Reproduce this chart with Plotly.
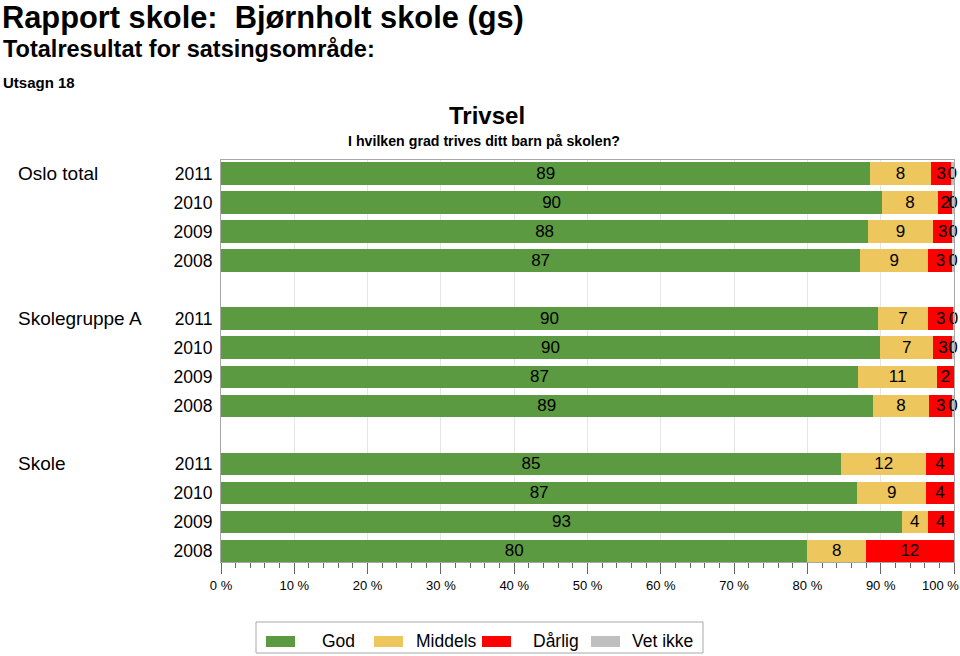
import plotly.graph_objects as go

# ---- data ----
groups = ["Oslo total", "Skolegruppe A", "Skole"]
years = ["2011", "2010", "2009", "2008"]
categories = ["God", "Middels", "Dårlig", "Vet ikke"]

# percentages per group, rows ordered 2011, 2010, 2009, 2008
god = [88.6, 90.2, 88.3, 87.2,
       89.6, 89.9, 86.9, 88.9,
       84.6, 86.8, 92.9, 80.0]
middels = [8.2, 7.6, 8.8, 9.3,
           6.9, 7.3, 10.8, 7.7,
           11.6, 9.4, 3.5, 8.0]
darlig = [2.9, 2.0, 2.7, 3.3,
          3.4, 2.6, 2.25, 3.2,
          3.75, 3.75, 3.55, 11.95]
vet_ikke = [0.25, 0.15, 0.15, 0.15,
            0.05, 0.15, None, 0.15,
            None, None, None, None]

x_ticks = [0, 10, 20, 30, 40, 50, 60, 70, 80, 90, 100]

colors = ["#5B9A40", "#EDC65E", "#FF0000", "#BFBFBF"]

# ---- layout helpers ----
W, H = 960, 656
L, R, T, B = 221, 6, 160, 94
PW, PH = W - L - R, H - T - B

def px_x(px):
    return (px - L) / PW

def px_y(py):
    return (H - B - py) / PH

FONT = "Liberation Sans, Arial, sans-serif"

# row positions: 4 rows per group + a blank row between groups
ypos = []
ylab = []
for gi, g in enumerate(groups):
    for yi, yr in enumerate(years):
        ypos.append(gi * 5 + yi)
        ylab.append(yr)

series = [god, middels, darlig, vet_ikke]

fig = go.Figure()
for name, vals, col in zip(categories, series, colors):
    xs = [v if v is not None else 0 for v in vals]
    txt = [f"{round(v)}" if v is not None else "" for v in vals]
    fig.add_trace(go.Bar(
        name=name, orientation="h", y=ypos, x=xs,
        marker=dict(color=col, line=dict(width=0)),
        width=0.79,
        text=txt, textposition="inside", textangle=0,
        insidetextanchor="middle", constraintext="none",
        insidetextfont=dict(color="black", size=17, family=FONT),
        cliponaxis=False, showlegend=False,
        hovertemplate=name + ": %{x}<extra></extra>",
    ))

fig.update_layout(
    width=W, height=H, barmode="stack",
    margin=dict(l=L, r=R, t=T, b=B, pad=0),
    paper_bgcolor="white", plot_bgcolor="white",
    font=dict(family=FONT, color="black"),
)

last = len(years) * len(groups) + len(groups) - 2
fig.update_yaxes(
    range=[last + 0.38, -0.48], tickvals=ypos, ticktext=ylab,
    ticks="", showgrid=False, zeroline=False,
    showline=True, linecolor="#A8A8A8", linewidth=1, mirror=True,
    tickfont=dict(size=17.5, family=FONT, color="black"),
    ticklabelstandoff=4,
)
x_text = [f"{v} %" for v in x_ticks]
x_text[-1] = ""
fig.update_xaxes(
    range=[0, 100], tickvals=x_ticks, ticktext=x_text,
    ticks="outside", ticklen=11, tickcolor="#666", tickwidth=1,
    minor=dict(dtick=2, ticks="outside", ticklen=5, tickcolor="#666", showgrid=False),
    showgrid=True, gridcolor="#E6E6E6", gridwidth=1, zeroline=False,
    showline=True, linecolor="#A8A8A8", linewidth=1, mirror=True,
    tickfont=dict(size=13, family=FONT, color="black"),
)

ann = []
# last tick label, pulled inside the page like the reference
ann.append(dict(text=f"{x_ticks[-1]} %", x=px_x(940), xref="paper", y=px_y(585), yref="paper",
                xanchor="center", yanchor="middle", showarrow=False,
                font=dict(size=13, family=FONT)))
# group labels
for gi, g in enumerate(groups):
    ann.append(dict(text=g, x=px_x(16), xref="paper", y=gi * 5, yref="y",
                    xanchor="left", yanchor="middle", showarrow=False,
                    font=dict(size=19, family=FONT)))

titles = [
    ("<b>Rapport skole:  Bjørnholt skole (gs)</b>", 0, 18, 30.8, "left"),
    ("<b>Totalresultat for satsingsområde:</b>", 1, 49, 23.5, "left"),
    ("<b>Utsagn 18</b>", 1, 82, 15, "left"),
    ("<b>Trivsel</b>", 487, 115, 24, "center"),
    ("<b>I hvilken grad trives ditt barn på skolen?</b>", 484, 141, 14.2, "center"),
]
for t, x, y, s, xa in titles:
    ann.append(dict(text=t, x=px_x(x), xref="paper", y=px_y(y), yref="paper",
                    xanchor=xa, yanchor="middle", showarrow=False,
                    font=dict(size=s, family=FONT)))

# legend (drawn box)
shapes = [dict(type="rect", xref="paper", yref="paper",
               x0=px_x(256), x1=px_x(703), y0=px_y(653), y1=px_y(622),
               line=dict(color="#A8A8A8", width=1), fillcolor="white")]
sw_x = [266, 374, 482, 591]
tx_x = [320, 414, 531, 630]
for name, col, sx, tx in zip(categories, colors, sw_x, tx_x):
    shapes.append(dict(type="rect", xref="paper", yref="paper",
                       x0=px_x(sx), x1=px_x(sx + 29), y0=px_y(647), y1=px_y(636),
                       line=dict(width=0), fillcolor=col))
    ann.append(dict(text=name, x=px_x(tx), xref="paper", y=px_y(641), yref="paper",
                    xanchor="left", yanchor="middle", showarrow=False,
                    font=dict(size=17.5, family=FONT)))

fig.update_layout(annotations=ann, shapes=shapes)
fig.write_html("out.html")
